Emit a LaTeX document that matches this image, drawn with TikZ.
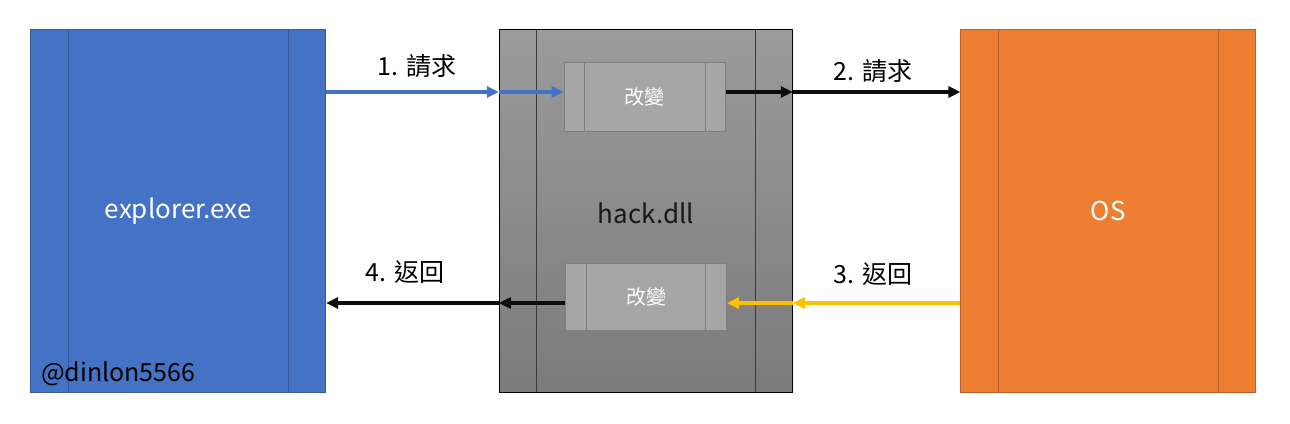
\documentclass[tikz,border=0pt]{standalone}
\usepackage{fontspec}
\setmainfont{Noto Sans CJK TC}
\usetikzlibrary{arrows.meta,calc}
\definecolor{exeblue}{HTML}{4472C4}
\definecolor{exeborder}{HTML}{36599A}
\definecolor{osorange}{HTML}{ED7D31}
\definecolor{osborder}{HTML}{B8612A}
\definecolor{retyellow}{HTML}{FFC000}
\definecolor{arrblack}{HTML}{0D0D0D}
\definecolor{dlltop}{HTML}{9B9B9B}
\definecolor{dllbot}{HTML}{7B7B7B}
\definecolor{dllline}{HTML}{3A3A3A}
\definecolor{subfill}{HTML}{A6A6A6}
\definecolor{subline}{HTML}{7F7F7F}
\tikzset{
  procbox/.style={rectangle, inner sep=0pt, line width=1pt,
    path picture={
      \draw[line width=1pt, draw=#1]
        ([xshift=\procoff]path picture bounding box.north west) -- ([xshift=\procoff]path picture bounding box.south west)
        ([xshift=-\procoff]path picture bounding box.north east) -- ([xshift=-\procoff]path picture bounding box.south east);
    }},
  flow/.style={line width=3.5pt, -{Triangle[length=12pt,width=11pt]}, shorten >=0pt},
  lbl/.style={font=\fontsize{25}{29}\selectfont, text=black, inner sep=0pt}
}
\newcommand{\procoff}{37.3pt}
\begin{document}
\begin{tikzpicture}[x=1pt,y=-1pt]
\useasboundingbox (0,0) rectangle (1290,423);
\fill[white] (0,0) rectangle (1290,423);
% main boxes
\node[procbox=exeborder, draw=exeborder, fill=exeblue, minimum width=294.7pt, minimum height=362.7pt,
  font=\fontsize{26}{30}\selectfont, text=white] (exe) at (178.3,210.7) {explorer.exe};
\node[procbox=dllline, draw=black, top color=dlltop, bottom color=dllbot, minimum width=293pt, minimum height=362.7pt] (dll) at (645.8,210.7) {};
\node[font=\fontsize{26}{30}\selectfont, text=black!90] (dlltext) at (645.8,213) {hack.dll};
\node[procbox=osborder, draw=osborder, fill=osorange, minimum width=294.7pt, minimum height=362.7pt,
  font=\fontsize{26}{30}\selectfont, text=white] (os) at (1108.3,210.7) {OS};
% sub boxes
\begingroup
\renewcommand{\procoff}{20.5pt}
\node[procbox=subline, draw=subline, fill=subfill, minimum width=161.5pt, minimum height=69pt,
  font=\fontsize{20}{24}\selectfont, text=white] (chg1) at (644.9,96.8) {改變};
\node[procbox=subline, draw=subline, fill=subfill, minimum width=160.6pt, minimum height=67.3pt,
  font=\fontsize{20}{24}\selectfont, text=white] (chg2) at (646,297.3) {改變};
\endgroup
% watermark
\node[anchor=west, font=\fontsize{25}{29}\selectfont, text=black, inner sep=0pt] (wm) at (41,374) {@dinlon5566};
% reference rows
\coordinate (ytop) at (0,92);
\coordinate (ybot) at (0,303);
% arrows
\draw[flow, exeblue] (exe.east |- ytop) -- (dll.west |- ytop);
\draw[flow, exeblue] (dll.west |- ytop) -- (chg1.west |- ytop);
\draw[flow, arrblack] (chg1.east |- ytop) -- (dll.east |- ytop);
\draw[flow, arrblack] (dll.east |- ytop) -- (os.west |- ytop);
\draw[flow, retyellow] (os.west |- ybot) -- (dll.east |- ybot);
\draw[flow, retyellow] (dll.east |- ybot) -- (chg2.east |- ybot);
\draw[flow, arrblack] (chg2.west |- ybot) -- (dll.west |- ybot);
\draw[flow, arrblack] (dll.west |- ybot) -- (exe.east |- ybot);
% labels
\node[lbl] (l1) at (417,66) {1. 請求};
\node[lbl] (l2) at (873,71) {2. 請求};
\node[lbl] (l3) at (873,274) {3. 返回};
\node[lbl] (l4) at (405,272) {4. 返回};
\end{tikzpicture}
\end{document}
